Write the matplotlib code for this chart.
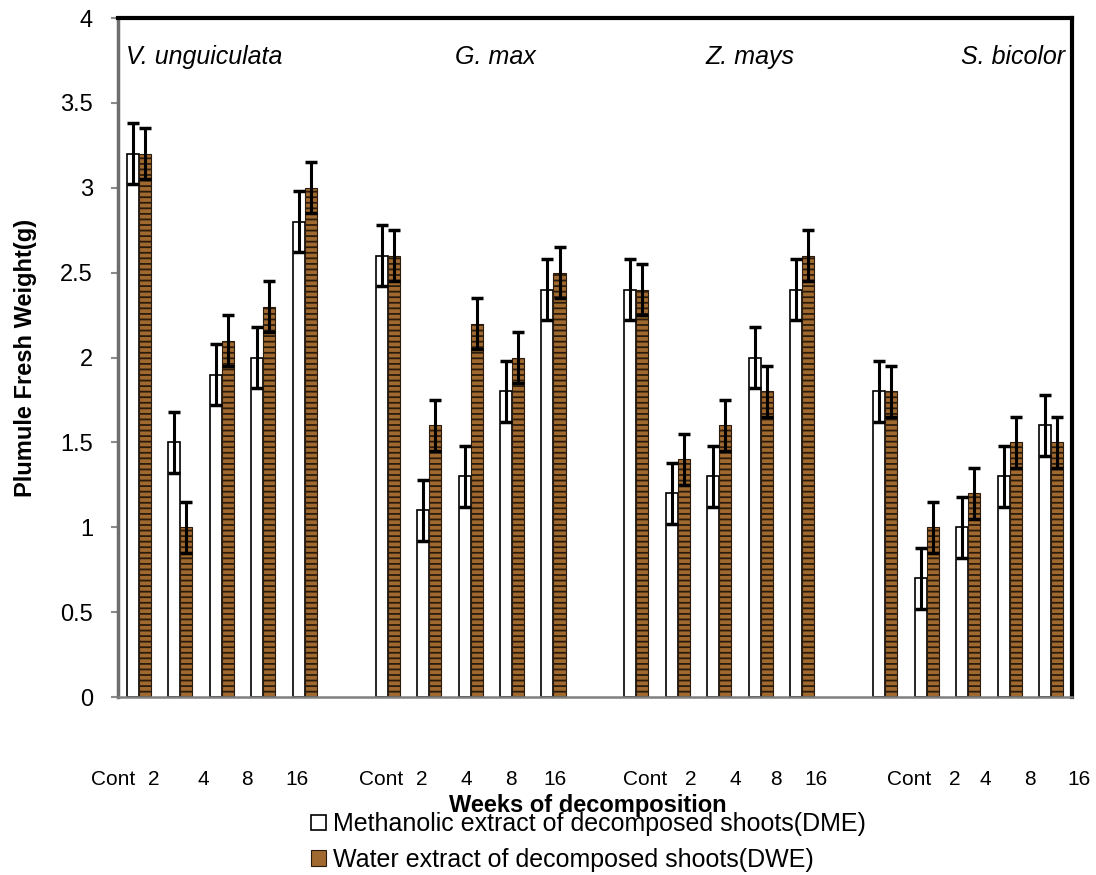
import numpy as np
import matplotlib
matplotlib.use('Agg')
import matplotlib.pyplot as plt
from matplotlib.patches import Patch
from matplotlib.ticker import FuncFormatter

plt.rcParams['font.family'] = ['Liberation Sans', 'DejaVu Sans']
plt.rcParams['hatch.linewidth'] = 1.3
plt.rcParams['hatch.color'] = '#2a1b0c'

# Datos
species = ['V. unguiculata', 'G. max', 'Z. mays', 'S. bicolor']
weeks = ['Cont', '2', '4', '8', '16']
dme = [[3.2, 1.5, 1.9, 2.0, 2.8],
       [2.6, 1.1, 1.3, 1.8, 2.4],
       [2.4, 1.2, 1.3, 2.0, 2.4],
       [1.8, 0.7, 1.0, 1.3, 1.6]]
dwe = [[3.2, 1.0, 2.1, 2.3, 3.0],
       [2.6, 1.6, 2.2, 2.0, 2.5],
       [2.4, 1.4, 1.6, 1.8, 2.6],
       [1.8, 1.0, 1.2, 1.5, 1.5]]
dme_err = 0.18
dwe_err = 0.15

# posiciones (slots) de las etiquetas de texto, como en la figura original
week_label_pos = [[-0.62, 0.37, 1.55, 2.61, 3.81],
                  [5.84, 6.83, 7.89, 8.97, 10.03],
                  [12.22, 13.31, 14.39, 15.36, 16.34],
                  [18.58, 19.67, 20.42, 21.48, 22.68]]
species_label_pos = [1.57, 8.61, 14.73, 21.09]

fig = plt.figure(figsize=(10.96, 8.75), dpi=100)
ax = fig.add_axes([0.1077, 0.2034, 0.8703, 0.7760])

w = 0.29
brown = '#a0692f'
for g in range(len(species)):
    x = np.arange(5) + g * 6
    ax.bar(x - w / 2, dme[g], w, color='white', edgecolor='black', linewidth=1.2, zorder=2)
    ax.bar(x + w / 2, dwe[g], w, color=brown, edgecolor='#2a1b0c', linewidth=0.8,
           hatch='---', zorder=2)
    ax.errorbar(x - w / 2, dme[g], yerr=dme_err, fmt='none', ecolor='black',
                elinewidth=2.2, capsize=4.5, capthick=2.5, zorder=3)
    ax.errorbar(x + w / 2, dwe[g], yerr=dwe_err, fmt='none', ecolor='black',
                elinewidth=2.2, capsize=4.5, capthick=2.5, zorder=3)
    for pos, lab in zip(week_label_pos[g], weeks):
        ax.text(pos, -0.121, lab, transform=ax.get_xaxis_transform(), ha='center',
                va='center', fontsize=15)
    ax.text(species_label_pos[g], 0.9426, species[g], transform=ax.get_xaxis_transform(),
            ha='center', va='center', fontsize=18, style='italic')

ax.set_xlim(-0.5, 22.5)
ax.set_ylim(0, 4)
ax.set_yticks(np.arange(0, 4.01, 0.5))
ax.yaxis.set_major_formatter(FuncFormatter(lambda v, p: '%g' % v))
ax.set_xticks([])
ax.tick_params(axis='y', direction='out', length=5, width=1.5, color='#8a8a8a',
               labelsize=17, pad=13)

ax.spines['top'].set_linewidth(3)
ax.spines['right'].set_linewidth(3)
ax.spines['top'].set_color('black')
ax.spines['right'].set_color('black')
ax.spines['bottom'].set_color('#7f7f7f')
ax.spines['bottom'].set_linewidth(1.8)
ax.spines['left'].set_color('#6e6e6e')
ax.spines['left'].set_linewidth(2.5)

ax.set_ylabel('Plumule Fresh Weight(g)', fontsize=17, fontweight='bold', labelpad=17)
fig.text(0.536, 0.079, 'Weeks of decomposition', ha='center', va='center',
         fontsize=17, fontweight='bold')

handles = [Patch(facecolor='white', edgecolor='black', linewidth=1.2),
           Patch(facecolor=brown, edgecolor='#2a1b0c', linewidth=0.8)]
fig.legend(handles, ['Methanolic extract of decomposed shoots(DME)',
                     'Water extract of decomposed shoots(DWE)'],
           loc='upper left', bbox_to_anchor=(0.272, 0.086), frameon=False,
           fontsize=18, handlelength=0.6, handleheight=0.6, handletextpad=0.3,
           labelspacing=0.45, borderpad=0)

fig.savefig('out.png', dpi=100)
